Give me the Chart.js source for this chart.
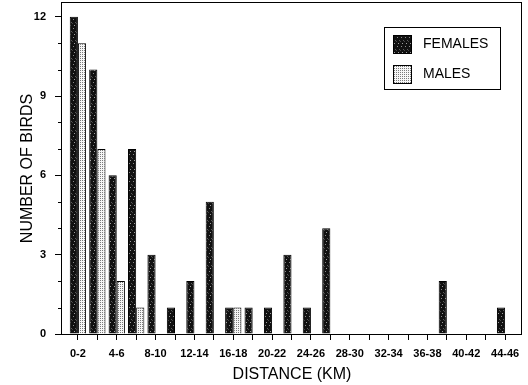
<!DOCTYPE html>
<html><head><meta charset="utf-8">
<script src="https://cdn.jsdelivr.net/npm/chart.js@4/dist/chart.umd.min.js"></script>
<style>html,body{margin:0;padding:0;background:#fff}#wrap{width:528px;height:385px}</style>
</head><body><div id="wrap"><canvas id="c" width="528" height="385"></canvas></div>
<script>
const categories = ['0-2','2-4','4-6','6-8','8-10','10-12','12-14','14-16','16-18','18-20','20-22','22-24','24-26','26-28','28-30','30-32','32-34','34-36','36-38','38-40','40-42','42-44','44-46'];
const females = [12,10,6,7,3,1,2,5,1,1,1,3,1,4,0,0,0,0,0,2,0,0,1];
const males   = [11,7,2,1,0,0,0,0,1,0,0,0,0,0,0,0,0,0,0,0,0,0,0];
const yTickValues = [0,3,6,9,12];
const yMinorValues = [1,2,4,5,7,8,10,11];
const seriesNames = ['FEMALES','MALES'];

function makePattern(bg, dots, w, h) {
  const c = document.createElement('canvas');
  c.width = w; c.height = h;
  const x = c.getContext('2d');
  x.fillStyle = bg; x.fillRect(0,0,w,h);
  dots.forEach(d => { x.fillStyle = d[2]; x.fillRect(d[0], d[1], 1, 1); });
  return x.createPattern(c, 'repeat');
}
const femalePat = makePattern('#111', [[1,1,'#8a8a8a'],[3,4,'#5a5a5a'],[2,7,'#a0a0a0'],[0,5,'#444']], 4, 9);
const malePat = makePattern('#f6f6f6', [[0,0,'#7a7a7a']], 2, 2);

const FONT = "'Liberation Sans', Arial, sans-serif";

const framePlugin = {
  id: 'frame',
  afterDraw(chart) {
    const {ctx, chartArea: a, scales} = chart;
    ctx.save();
    ctx.strokeStyle = '#000'; ctx.lineWidth = 1;
    ctx.strokeRect(Math.round(a.left) - 0.5, Math.round(a.top) - 0.5, Math.round(a.right - a.left), Math.round(a.bottom - a.top) + 1);
    const ys = scales.y;
    yMinorValues.forEach(v => {
      const py = Math.round(ys.getPixelForValue(v)) + 0.5;
      ctx.beginPath(); ctx.moveTo(a.left - 4, py); ctx.lineTo(a.left, py); ctx.stroke();
    });
    const lx = a.right - 138, ly = a.top + 24;
    ctx.strokeRect(Math.round(lx) + 0.5, Math.round(ly) + 0.5, 116, 62);
    chart.data.datasets.forEach((d, i) => {
      const sy = ly + 8 + i * 30;
      ctx.fillStyle = d.backgroundColor;
      ctx.fillRect(lx + 9, sy, 19, 19);
      ctx.strokeStyle = '#000';
      ctx.strokeRect(lx + 9.5, sy + 0.5, 18, 18);
      ctx.fillStyle = '#000';
      ctx.font = '14px ' + FONT;
      ctx.textBaseline = 'middle';
      ctx.textAlign = 'left';
      ctx.fillText(d.label, lx + 39, sy + 9.5);
    });
    ctx.restore();
  }
};

new Chart(document.getElementById('c'), {
  type: 'bar',
  data: {
    datasets: [
      { label: seriesNames[0], data: females.map((v, i) => ({x: i, y: v})), backgroundColor: femalePat, borderColor: '#000', borderWidth: 1, categoryPercentage: 0.84, barPercentage: 1.0 },
      { label: seriesNames[1], data: males.map((v, i) => ({x: i, y: v})), backgroundColor: malePat, borderColor: '#000', borderWidth: 1, categoryPercentage: 0.84, barPercentage: 1.0 }
    ]
  },
  options: {
    responsive: false,
    animation: false,
    devicePixelRatio: 1,
    layout: { padding: { top: 3, right: 6, left: 0, bottom: 0 } },
    plugins: { legend: { display: false }, tooltip: { enabled: false } },
    scales: {
      x: {
        type: 'linear',
        offset: false,
        min: -0.82, max: 22.87,
        afterBuildTicks: s => { s.ticks = categories.map((c, i) => ({value: i})); },
        afterFit: s => { s.height = 51; s.paddingLeft = 0; s.paddingRight = 0; },
        grid: { display: true, offset: false, drawOnChartArea: false, drawTicks: true, tickLength: 6, color: '#000' },
        border: { display: false },
        ticks: {
          autoSkip: false, maxRotation: 0, padding: 7, color: '#000',
          font: { family: FONT, size: 11, weight: 'bold' },
          callback: (v) => (v % 2 === 0 ? categories[v] : '')
        },
        title: { display: true, text: 'DISTANCE (KM)', color: '#000', font: { family: FONT, size: 16 }, padding: { top: 0, bottom: 1 } }
      },
      y: {
        min: 0, max: 12.52,
        afterBuildTicks: s => { s.ticks = yTickValues.map(v => ({value: v})); },
        afterFit: s => { s.width = 62; s.paddingTop = 0; s.paddingBottom = 0; },
        grid: { display: true, drawOnChartArea: false, drawTicks: true, tickLength: 7, color: '#000' },
        border: { display: false },
        ticks: { padding: 9, color: '#000', font: { family: FONT, size: 11, weight: 'bold' } },
        title: { display: true, text: 'NUMBER OF BIRDS', color: '#000', font: { family: FONT, size: 16 }, padding: { top: 18, bottom: 0 } }
      }
    }
  },
  plugins: [framePlugin]
});
</script>
</body></html>
